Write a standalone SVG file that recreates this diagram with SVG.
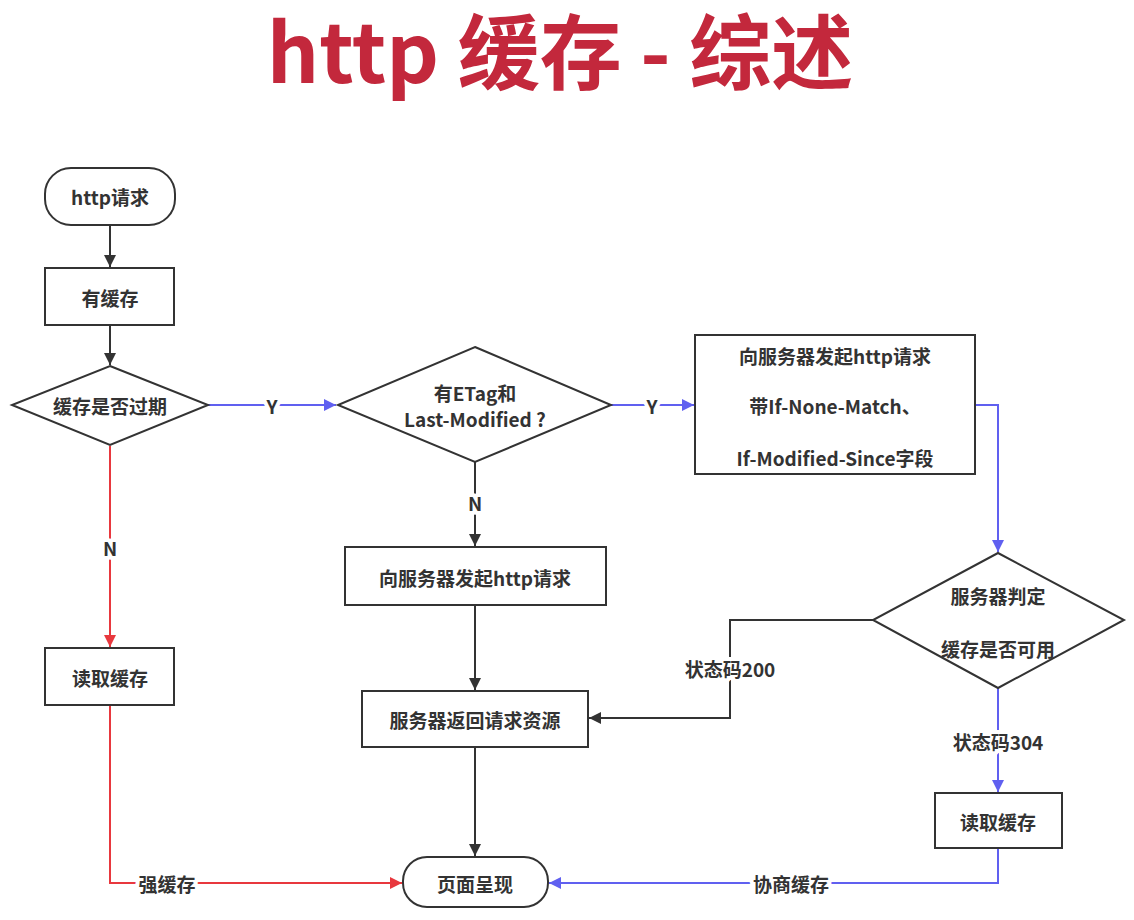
<svg xmlns="http://www.w3.org/2000/svg" width="1134" height="920" viewBox="0 0 1134 920">
<style>
.n{fill:#fff;stroke:#333;stroke-width:2}
.t{font-family:"Noto Sans CJK SC","Noto Sans",sans-serif;font-weight:bold;font-size:19px;fill:#333;text-anchor:middle;dominant-baseline:central}
.lbl{font-family:"Noto Sans CJK SC","Noto Sans",sans-serif;font-weight:bold;font-size:19px;fill:#333;text-anchor:middle;dominant-baseline:central;stroke:#fff;stroke-width:8;paint-order:stroke;stroke-linejoin:round}
.k{fill:none;stroke:#333;stroke-width:2}
.b{fill:none;stroke:#6060f0;stroke-width:2}
.r{fill:none;stroke:#e8383e;stroke-width:2}
</style>
<defs>
<marker id="ak" viewBox="0 0 10 10" refX="10" refY="5" markerWidth="6" markerHeight="6" orient="auto" markerUnits="strokeWidth"><path d="M0,0 L10,5 L0,10 z" fill="#333"/></marker>
<marker id="ab" viewBox="0 0 10 10" refX="10" refY="5" markerWidth="6" markerHeight="6" orient="auto" markerUnits="strokeWidth"><path d="M0,0 L10,5 L0,10 z" fill="#6060f0"/></marker>
<marker id="ar" viewBox="0 0 10 10" refX="10" refY="5" markerWidth="6" markerHeight="6" orient="auto" markerUnits="strokeWidth"><path d="M0,0 L10,5 L0,10 z" fill="#e8383e"/></marker>
</defs>
<rect width="1134" height="920" fill="#fff"/>
<text x="560" y="83" font-family="'Noto Sans CJK SC','Noto Sans',sans-serif" font-weight="bold" font-size="82" fill="#c3283c" text-anchor="middle">http 缓存 - 综述</text>

<g id="connectors">
<path class="k" d="M110,225 V267" marker-end="url(#ak)"/>
<path class="k" d="M110,325 V365" marker-end="url(#ak)"/>
<path class="b" d="M208,405 H336" marker-end="url(#ab)"/>
<path class="r" d="M110,446 V647" marker-end="url(#ar)"/>
<path class="r" d="M110,705 V883 H402" marker-end="url(#ar)"/>
<path class="k" d="M475,462 V546" marker-end="url(#ak)"/>
<path class="b" d="M611,405 H694" marker-end="url(#ab)"/>
<path class="k" d="M475,605 V690" marker-end="url(#ak)"/>
<path class="k" d="M475,747 V856" marker-end="url(#ak)"/>
<path class="b" d="M975,405 H998 V552" marker-end="url(#ab)"/>
<path class="k" d="M873,620 H730 V718 H589" marker-end="url(#ak)"/>
<path class="b" d="M998,688 V792" marker-end="url(#ab)"/>
<path class="b" d="M998,848 V883 H549" marker-end="url(#ab)"/>
<text class="lbl" x="272" y="405">Y</text>
<text class="lbl" x="110" y="547">N</text>
<text class="lbl" x="167" y="883">强缓存</text>
<text class="lbl" x="475" y="502">N</text>
<text class="lbl" x="652" y="405">Y</text>
<text class="lbl" x="730" y="668">状态码200</text>
<text class="lbl" x="998" y="741">状态码304</text>
<text class="lbl" x="791" y="883">协商缓存</text>
</g>

<g id="n-start"><rect class="n" x="45" y="168" width="130" height="57" rx="26"/><text class="t" x="110" y="196">http请求</text></g>
<g id="n-hascache"><rect class="n" x="45" y="268" width="129" height="57"/><text class="t" x="110" y="297">有缓存</text></g>
<g id="n-expired"><polygon class="n" points="110,366 208,405 110,445 12,405"/><text class="t" x="110" y="405">缓存是否过期</text></g>
<g id="n-readcache1"><rect class="n" x="45" y="648" width="129" height="57"/><text class="t" x="110" y="677">读取缓存</text></g>
<g id="n-etag"><polygon class="n" points="475,347 611,405 475,462 338,405"/><text class="t" x="475" y="392">有ETag和</text><text class="t" x="475" y="418">Last-Modified ?</text></g>
<g id="n-request"><rect class="n" x="345" y="547" width="261" height="58"/><text class="t" x="475" y="577">向服务器发起http请求</text></g>
<g id="n-return"><rect class="n" x="362" y="691" width="226" height="56"/><text class="t" x="475" y="719">服务器返回请求资源</text></g>
<g id="n-render"><rect class="n" x="403" y="857" width="145" height="50" rx="24"/><text class="t" x="475" y="883">页面呈现</text></g>
<g id="n-condreq"><rect class="n" x="695" y="335" width="280" height="139"/><text class="t" x="835" y="355">向服务器发起http请求</text><text class="t" x="835" y="405">带If-None-Match、</text><text class="t" x="835" y="457">If-Modified-Since字段</text></g>
<g id="n-judge"><polygon class="n" points="998,553 1124,620 998,688 873,620"/><text class="t" x="998" y="595">服务器判定</text><text class="t" x="998" y="648">缓存是否可用</text></g>
<g id="n-readcache2"><rect class="n" x="935" y="793" width="127" height="55"/><text class="t" x="998" y="821">读取缓存</text></g>
</svg>
